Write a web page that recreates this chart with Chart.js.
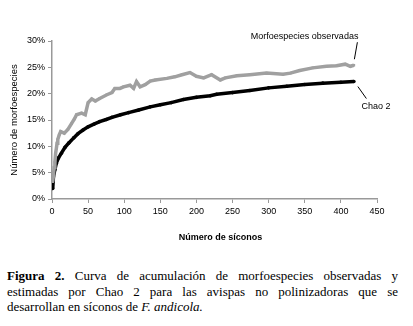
<!DOCTYPE html>
<html>
<head>
<meta charset="utf-8">
<script src="https://cdn.jsdelivr.net/npm/chart.js@4"></script>
<style>
  body { margin: 0; background: #fff; }
  #wrap { position: relative; width: 413px; height: 326px; }
  #chart { position: absolute; left: 0; top: 0; }
  .caption {
    position: absolute; left: 7px; width: 391px; top: 268px;
    font-family: "Liberation Serif", "Times New Roman", serif;
    font-size: 13px; line-height: 15.5px; color: #000;
  }
  .caption div { text-align: justify; text-align-last: justify; }
  .caption div.last { text-align-last: left; }
</style>
</head>
<body>
<div id="wrap">
  <canvas id="chart" width="413" height="255"></canvas>
  <div class="caption">
    <div><b>Figura 2.</b> Curva de acumulación de morfoespecies observadas y</div>
    <div>estimadas por Chao 2 para las avispas no polinizadoras que se</div>
    <div class="last">desarrollan en síconos de <i>F. andicola.</i></div>
  </div>
</div>
<script>
// number of siconos sampled and % of morfoespecies
const observedX = [1, 2, 3, 4, 5, 6, 7, 8, 10, 12, 17, 22, 27, 31, 34, 41, 46, 50, 55, 60, 66, 76, 83, 87, 94, 99, 108, 113, 117, 122, 129, 136, 143, 159, 170, 180, 191, 200, 210, 221, 233, 240, 256, 274, 297, 320, 330, 343, 361, 380, 394, 406, 413, 418];
const observedY = [3.3, 4.5, 6.0, 7.0, 8.7, 9.6, 10.6, 11.3, 12.2, 12.8, 12.5, 13.2, 14.3, 15.2, 16.0, 16.3, 16.0, 18.3, 19.0, 18.6, 19.1, 19.8, 20.2, 21.0, 21.0, 21.3, 21.6, 21.0, 22.3, 21.3, 21.7, 22.4, 22.6, 22.9, 23.2, 23.6, 24.0, 23.3, 23.0, 23.6, 22.6, 23.0, 23.4, 23.6, 23.9, 23.7, 23.9, 24.4, 24.9, 25.2, 25.3, 25.6, 25.2, 25.4];

const chaoX = [1, 2, 4, 6, 9, 13, 18, 23, 30, 36, 43, 50, 58, 66, 75, 83, 95, 106, 120, 136, 150, 165, 182, 200, 219, 228, 250, 274, 300, 325, 350, 375, 400, 418];
const chaoY = [2.0, 4.2, 5.6, 6.8, 7.8, 8.7, 9.8, 10.6, 11.6, 12.4, 13.1, 13.7, 14.2, 14.7, 15.1, 15.5, 16.0, 16.4, 16.9, 17.5, 17.9, 18.3, 18.9, 19.3, 19.6, 19.9, 20.2, 20.6, 21.1, 21.4, 21.75, 22.0, 22.15, 22.3];

const xTicks = [0, 50, 100, 150, 200, 250, 300, 350, 400, 450];
const yTicks = [0, 5, 10, 15, 20, 25, 30];

const labelObserved = 'Morfoespecies observadas';
const labelChao = 'Chao 2';
const xTitle = 'Número de síconos';

const axisGray = '#999999';
const fontFamily = '"Liberation Sans", Arial, sans-serif';
const font9 = { family: fontFamily, size: 9 };

function toPoints(xs, ys) {
  return xs.map((x, i) => ({ x: x, y: ys[i] }));
}

// labels with leader lines at the end of each curve, plus the x title
const endLabels = {
  id: 'endLabels',
  afterDatasetsDraw(chart) {
    const ctx = chart.ctx;
    const obs = chart.getDatasetMeta(0).data;
    const chao = chart.getDatasetMeta(1).data;
    const a = obs[obs.length - 1];
    const b = chao[chao.length - 1];
    ctx.save();
    ctx.strokeStyle = '#000';
    ctx.lineWidth = 1;
    ctx.beginPath();
    ctx.moveTo(a.x + 3.5, a.y - 23);
    ctx.lineTo(a.x + 0.5, a.y - 6);
    ctx.moveTo(b.x + 4, b.y + 5);
    ctx.lineTo(b.x + 12.5, b.y + 17);
    ctx.stroke();
    ctx.fillStyle = '#000';
    ctx.font = '9px ' + fontFamily;
    ctx.textBaseline = 'middle';
    ctx.textAlign = 'right';
    ctx.fillText(labelObserved, a.x + 4.5, a.y - 29);
    ctx.textAlign = 'left';
    ctx.fillText(labelChao, b.x + 7.5, b.y + 24.5);

    const area = chart.chartArea;
    ctx.font = 'bold 9px ' + fontFamily;
    ctx.textAlign = 'center';
    ctx.fillText(xTitle, (area.left + area.right) / 2 + 6, area.bottom + 39);
    ctx.restore();
  }
};

new Chart(document.getElementById('chart'), {
  type: 'scatter',
  data: {
    datasets: [{
      label: labelObserved,
      data: toPoints(observedX, observedY),
      showLine: true,
      borderColor: '#a0a0a0',
      backgroundColor: '#a0a0a0',
      borderWidth: 3.5,
      pointStyle: 'rect',
      pointRadius: 1.8,
      pointBorderWidth: 0
    }, {
      label: labelChao,
      data: toPoints(chaoX, chaoY),
      showLine: true,
      borderColor: '#000000',
      backgroundColor: '#000000',
      borderWidth: 3.5,
      pointStyle: 'circle',
      pointRadius: 1.8,
      pointBorderWidth: 0
    }]
  },
  options: {
    responsive: false,
    animation: false,
    events: [],
    layout: { padding: { top: 41, right: 36, left: 0, bottom: 0 } },
    plugins: { legend: { display: false }, tooltip: { enabled: false } },
    scales: {
      x: {
        type: 'linear',
        min: 0,
        max: 450,
        afterBuildTicks: s => { s.ticks = xTicks.map(v => ({ value: v })); },
        afterFit: s => { s.height = 56; },
        ticks: { font: font9, color: '#000', padding: 3, maxRotation: 0 },
        grid: { drawOnChartArea: false, tickLength: 4, color: axisGray },
        border: { color: axisGray, width: 1.5 }
      },
      y: {
        min: 0,
        max: 30,
        afterBuildTicks: s => { s.ticks = yTicks.map(v => ({ value: v })); },
        afterFit: s => { s.width = 52; },
        ticks: { font: font9, color: '#000', padding: 3, callback: v => v + '%' },
        grid: { drawOnChartArea: false, tickLength: 4, color: axisGray },
        border: { color: axisGray, width: 1.5 },
        title: {
          display: true, text: 'Número de morfoespecies', color: '#000',
          font: { family: fontFamily, size: 9.5 },
          padding: { top: 9, bottom: 0 }
        }
      }
    }
  },
  plugins: [endLabels]
});
</script>
</body>
</html>
